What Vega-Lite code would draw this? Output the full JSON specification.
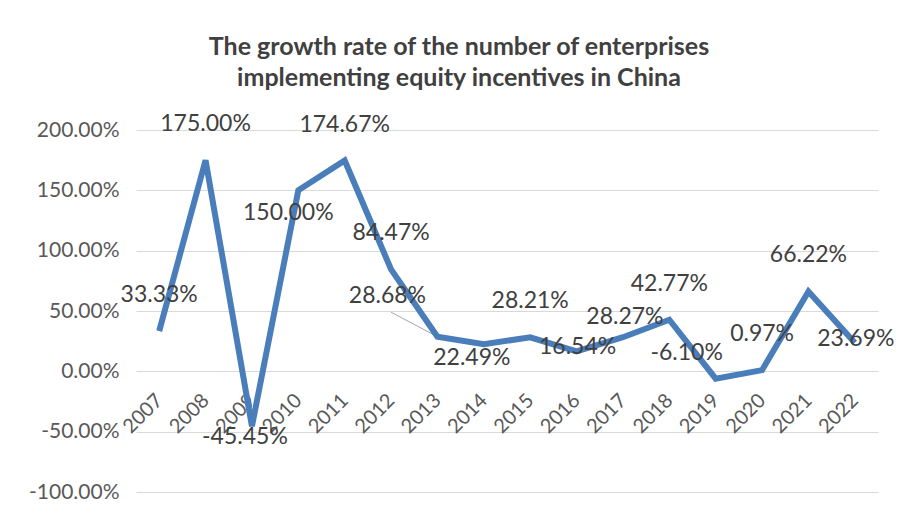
{
  "$schema": "https://vega.github.io/schema/vega-lite/v6.json",
  "autosize": {"type": "none"},
  "width": 742,
  "height": 362,
  "padding": {"left": 136, "top": 130, "right": 20, "bottom": 25},
  "background": "white",
  "title": {
    "text": ["The growth rate of the number of enterprises", "implementing equity incentives in China"],
    "font": "Lato",
    "fontSize": 25,
    "fontWeight": "bold",
    "color": "#404040",
    "lineHeight": 31,
    "anchor": "middle",
    "dx": -48,
    "offset": 22
  },
  "config": {
    "locale": {"number": {"decimal": ".", "thousands": ",", "grouping": [3], "currency": ["$", ""], "minus": "-"}},
    "view": {"stroke": null},
    "text": {"font": "Lato"}
  },
  "data": {
    "values": [
      {"year": "2007", "rate": 0.3333},
      {"year": "2008", "rate": 1.75},
      {"year": "2009", "rate": -0.4545},
      {"year": "2010", "rate": 1.5},
      {"year": "2011", "rate": 1.7467},
      {"year": "2012", "rate": 0.8447},
      {"year": "2013", "rate": 0.2868},
      {"year": "2014", "rate": 0.2249},
      {"year": "2015", "rate": 0.2821},
      {"year": "2016", "rate": 0.1654},
      {"year": "2017", "rate": 0.2827},
      {"year": "2018", "rate": 0.4277},
      {"year": "2019", "rate": -0.061},
      {"year": "2020", "rate": 0.0097},
      {"year": "2021", "rate": 0.6622},
      {"year": "2022", "rate": 0.2369}
    ]
  },
  "encoding": {
    "x": {
      "field": "year",
      "type": "ordinal",
      "scale": {"type": "point", "padding": 0.5},
      "axis": {
        "title": null,
        "orient": "bottom",
        "offset": -121,
        "domain": false,
        "ticks": false,
        "grid": false,
        "labelAngle": -45,
        "labelAlign": "right",
        "labelBaseline": "middle",
        "labelPadding": 26,
        "labelFont": "Lato",
        "labelFontSize": 20,
        "labelColor": "#595959"
      }
    },
    "y": {
      "field": "rate",
      "type": "quantitative",
      "scale": {"domain": [-1, 2], "nice": false, "zero": false},
      "axis": {
        "title": null,
        "values": [-1, -0.5, 0, 0.5, 1, 1.5, 2],
        "format": ".2%",
        "domain": false,
        "ticks": false,
        "gridColor": "#d9d9d9",
        "gridWidth": 1,
        "labelPadding": 17,
        "labelFont": "Lato",
        "labelFontSize": 21,
        "labelColor": "#595959"
      }
    }
  },
  "layer": [
    {
      "transform": [{"filter": "datum.year == '2013'"}],
      "mark": {"type": "rule", "color": "#a6a6a6", "strokeWidth": 1},
      "encoding": {
        "x2": {"datum": "2012"},
        "y2": {"datum": 0.49}
      }
    },
    {
      "mark": {"type": "line", "color": "#4A7EBB", "strokeWidth": 6, "strokeJoin": "miter", "strokeCap": "butt"}
    },
    {
      "transform": [{"filter": "indexof(['2007','2008','2011','2012','2015','2018','2020','2021'], datum.year) >= 0"}],
      "mark": {"type": "text", "fontSize": 23, "color": "#404040", "dy": -36},
      "encoding": {"text": {"field": "rate", "format": ".2%"}}
    },
    {
      "transform": [{"filter": "indexof(['2016','2022'], datum.year) >= 0"}],
      "mark": {"type": "text", "fontSize": 23, "color": "#404040", "dy": -4, "dx": 1},
      "encoding": {"text": {"field": "rate", "format": ".2%"}}
    },
    {
      "transform": [{"filter": "datum.year == '2017'"}],
      "mark": {"type": "text", "fontSize": 23, "color": "#404040", "dy": -20, "dx": 2},
      "encoding": {"text": {"field": "rate", "format": ".2%"}}
    },
    {
      "transform": [{"filter": "datum.year == '2009'"}],
      "mark": {"type": "text", "fontSize": 23, "color": "#404040", "dy": 11, "dx": -7},
      "encoding": {"text": {"field": "rate", "format": ".2%"}}
    },
    {
      "transform": [{"filter": "datum.year == '2010'"}],
      "mark": {"type": "text", "fontSize": 23, "color": "#404040", "dy": 23, "dx": -10},
      "encoding": {"text": {"field": "rate", "format": ".2%"}}
    },
    {
      "transform": [{"filter": "datum.year == '2013'"}],
      "mark": {"type": "text", "fontSize": 23, "color": "#404040", "dy": -41, "dx": -50},
      "encoding": {"text": {"field": "rate", "format": ".2%"}}
    },
    {
      "transform": [{"filter": "datum.year == '2014'"}],
      "mark": {"type": "text", "fontSize": 23, "color": "#404040", "dy": 14, "dx": -12},
      "encoding": {"text": {"field": "rate", "format": ".2%"}}
    },
    {
      "transform": [{"filter": "datum.year == '2019'"}],
      "mark": {"type": "text", "fontSize": 23, "color": "#404040", "dy": -26, "dx": -29},
      "encoding": {"text": {"field": "rate", "format": ".2%"}}
    }
  ]
}
